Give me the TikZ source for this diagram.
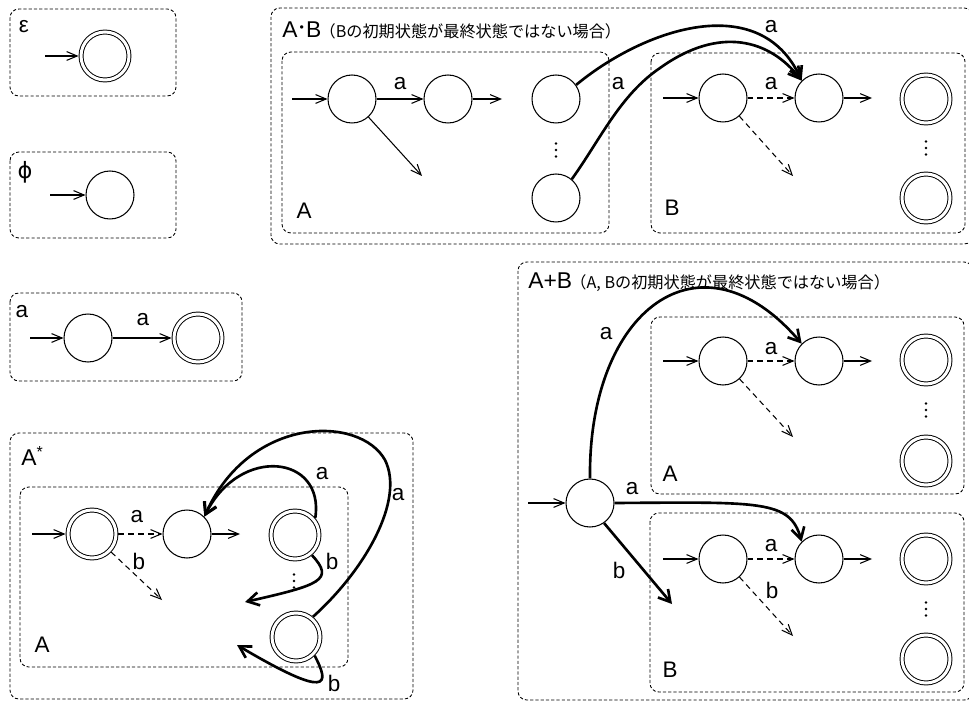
\documentclass[tikz,border=0pt]{standalone}
\usepackage{fontspec}
\setmainfont{Liberation Sans}
\newfontfamily\jafont{Noto Sans CJK JP}
\newfontfamily\grfont{DejaVu Sans}
\usetikzlibrary{arrows.meta}
\newcommand\labsize{\fontsize{12.8}{15}\selectfont}
\newcommand\titsize{\fontsize{13}{15}\selectfont}
\newcommand\subsize{\jafont\fontsize{9.2}{11}\selectfont}

\tikzset{
  st/.style={circle, draw, line width=0.6pt, minimum size=0.96cm, inner sep=0pt},
  acc/.style={st, double, double distance=1.7pt, line width=0.55pt, outer sep=1.4pt},
  grp/.style={draw, line width=0.5pt, dash pattern=on 1.8pt off 1.2pt, rounded corners=5pt},
  trans/.style={-{Straight Barb[length=6pt,width=5pt]}, line width=0.6pt},
  epsmove/.style={trans, dash pattern=on 3.2pt off 2.4pt},
  jump/.style={-{Straight Barb[length=6.5pt,width=7.5pt]}, line width=1.5pt},
  sym/.style={inner sep=0pt, font=\labsize},
  vdot/.pic={\foreach \dy in {-6.5,0,6.5} \fill (0,\dy) circle (0.75pt);},
}

\begin{document}
\begin{tikzpicture}[x=0.02cm, y=-0.02cm]
  \useasboundingbox (0,0) rectangle (969,702);

  % epsilon
  \draw[grp] (10,9) rectangle (176,96);
  \node[sym] (lbleps) at (24,27) {ε};
  \node[acc] (e0) at (105,56) {};
  \coordinate (e0in) at (45,56);
  \draw[trans] (e0in) -- (e0);

  % phi
  \draw[grp] (10,152) rectangle (176,238);
  \node[sym] (lblphi) at (25,172) {\grfont ϕ};
  \node[st] (p0) at (110,195) {};
  \coordinate (p0in) at (50,195);
  \draw[trans] (p0in) -- (p0);

  % a
  \draw[grp] (10,293) rectangle (242,381);
  \node[sym] (lbla) at (22,312) {a};
  \node[st] (s0) at (88,338) {};
  \node[acc] (s1) at (198,338) {};
  \coordinate (s0in) at (30,338);
  \draw[trans] (s0in) -- (s0);
  \draw[trans] (s0) -- (s1);
  \node[sym] (lbls01) at (143,320) {a};

  % A*
  \draw[grp] (10,433) rectangle (413,699);
  \draw[grp] (20,487) rectangle (348,667);
  \node[sym, anchor=base west] (lblstar) at (21,465) {\titsize A\textsuperscript{*}};
  \node[sym] (lblka) at (42,645) {A};
  \node[acc] (k0) at (92,534) {};
  \node[st] (k1) at (187,534) {};
  \node[acc] (k2) at (295,535) {};
  \node[acc] (k3) at (296,637) {};
  \pic at (294,581) {vdot};
  \coordinate (k0in) at (32,534);
  \coordinate (k1out) at (240,534);
  \coordinate (k0b) at (162,600);
  \coordinate (k2b) at (245,602);
  \coordinate (k3b) at (237,645);
  \draw[trans] (k0in) -- (k0);
  \draw[epsmove] (k0) -- (k1);
  \draw[trans] (k1) -- (k1out);
  \draw[epsmove] (k0) -- (k0b);
  \node[sym] (lblk01) at (137,517) {a};
  \node[sym] (lblk0b) at (139,561) {b};
  \draw[jump] (k2.40) .. controls (325,455) and (240,445) .. (k1.45);
  \draw[jump] (k3.50) .. controls (365,570) and (405,500) .. (385,460)
    .. controls (360,415) and (250,415) .. (k1.45);
  \draw[jump] (k2.-50) .. controls (335,580) and (320,585) .. (k2b);
  \draw[jump] (k3.-45) .. controls (330,685) and (330,700) .. (k3b);
  \node[sym] (lblk21) at (322,474) {a};
  \node[sym] (lblk31) at (398,495) {a};
  \node[sym] (lblk2b) at (332,561) {b};
  \node[sym] (lblk3b) at (334,683) {b};

  % A.B
  \draw[grp] (271,8) rectangle (973,244);
  \draw[grp] (282,52) rectangle (609,233);
  \draw[grp] (651,53) rectangle (965,233);
  \node[inner sep=0pt, anchor=base west] (titcat) at (282,38)
    {\titsize A\kern1.2pt\raisebox{0.28em}{\fontsize{7}{7}\selectfont\textbullet}\kern1.2pt B\kern-1pt{\subsize （Bの初期状態が最終状態ではない場合）}};
  \node[sym] (lblA1) at (304,211) {A};
  \node[sym] (lblB1) at (672,208) {B};
  \node[st] (a1) at (352,99) {};
  \node[st] (a2) at (448,99) {};
  \node[st] (a3) at (556,99) {};
  \node[st] (a4) at (556,198) {};
  \pic at (556,150) {vdot};
  \node[st] (b1) at (723,98) {};
  \node[st] (b2) at (819,98) {};
  \node[acc] (b3) at (926,99) {};
  \node[acc] (b4) at (926,198) {};
  \pic at (926,148) {vdot};
  \coordinate (a1in) at (292,99);
  \coordinate (a2out) at (502,99);
  \coordinate (a1d) at (422,176);
  \coordinate (b1in) at (663,98);
  \coordinate (b2out) at (872,98);
  \coordinate (b1d) at (793,176);
  \draw[trans] (a1in) -- (a1);
  \draw[trans] (a1) -- (a2);
  \draw[trans] (a2) -- (a2out);
  \draw[trans] (a1) -- (a1d);
  \draw[trans] (b1in) -- (b1);
  \draw[epsmove] (b1) -- (b2);
  \draw[trans] (b2) -- (b2out);
  \draw[epsmove] (b1) -- (b1d);
  \node[sym] (lbla12) at (400,84) {a};
  \node[sym] (lblb12) at (771,84) {a};
  \draw[jump] (a3.35) .. controls (645,28) and (760,-10) .. (b2.135);
  \draw[jump] (a4.50) .. controls (600,140) and (620,95) .. (660,68)
    .. controls (720,25) and (770,40) .. (b2.135);
  \node[sym] (lbla3) at (771,27) {a};
  \node[sym] (lbla4) at (618,84) {a};

  % A+B
  \draw[grp] (518,262) rectangle (973,700);
  \draw[grp] (651,317) rectangle (964,494);
  \draw[grp] (650,513) rectangle (964,692);
  \node[inner sep=0pt, anchor=base west] (titsum) at (528,288)
    {\titsize A+B\kern-1pt{\subsize （A, Bの初期状態が最終状態ではない場合）}};
  \node[sym] (lblA2) at (670,474) {A};
  \node[sym] (lblB2) at (670,670) {B};
  \node[st] (s) at (590,503) {};
  \node[st] (c1) at (723,361) {};
  \node[st] (c2) at (819,361) {};
  \node[acc] (c3) at (926,360) {};
  \node[acc] (c4) at (926,461) {};
  \pic at (926,410) {vdot};
  \node[st] (d1) at (723,559) {};
  \node[st] (d2) at (819,559) {};
  \node[acc] (d3) at (926,559) {};
  \node[acc] (d4) at (926,659) {};
  \pic at (926,609) {vdot};
  \coordinate (sin) at (528,503);
  \coordinate (c1in) at (663,361);
  \coordinate (c2out) at (872,361);
  \coordinate (c1d) at (793,437);
  \coordinate (d1in) at (663,559);
  \coordinate (d2out) at (872,559);
  \coordinate (d1d) at (793,636);
  \coordinate (sb) at (672,604);
  \draw[trans] (sin) -- (s);
  \draw[trans] (c1in) -- (c1);
  \draw[epsmove] (c1) -- (c2);
  \draw[trans] (c2) -- (c2out);
  \draw[epsmove] (c1) -- (c1d);
  \draw[trans] (d1in) -- (d1);
  \draw[epsmove] (d1) -- (d2);
  \draw[trans] (d2) -- (d2out);
  \draw[epsmove] (d1) -- (d1d);
  \node[sym] (lblc12) at (771,349) {a};
  \node[sym] (lbld12) at (771,546) {a};
  \node[sym] (lbld1b) at (772,590) {b};
  \draw[jump] (s.north) .. controls (588,310) and (700,225) .. (c2.135);
  \draw[jump] (s.east) .. controls (760,502) and (790,500) .. (d2.135);
  \draw[jump] (s.-55) -- (sb);
  \node[sym] (lblsc) at (606,334) {a};
  \node[sym] (lblsd) at (632,489) {a};
  \node[sym] (lblsb) at (619,570) {b};
\end{tikzpicture}
\end{document}
